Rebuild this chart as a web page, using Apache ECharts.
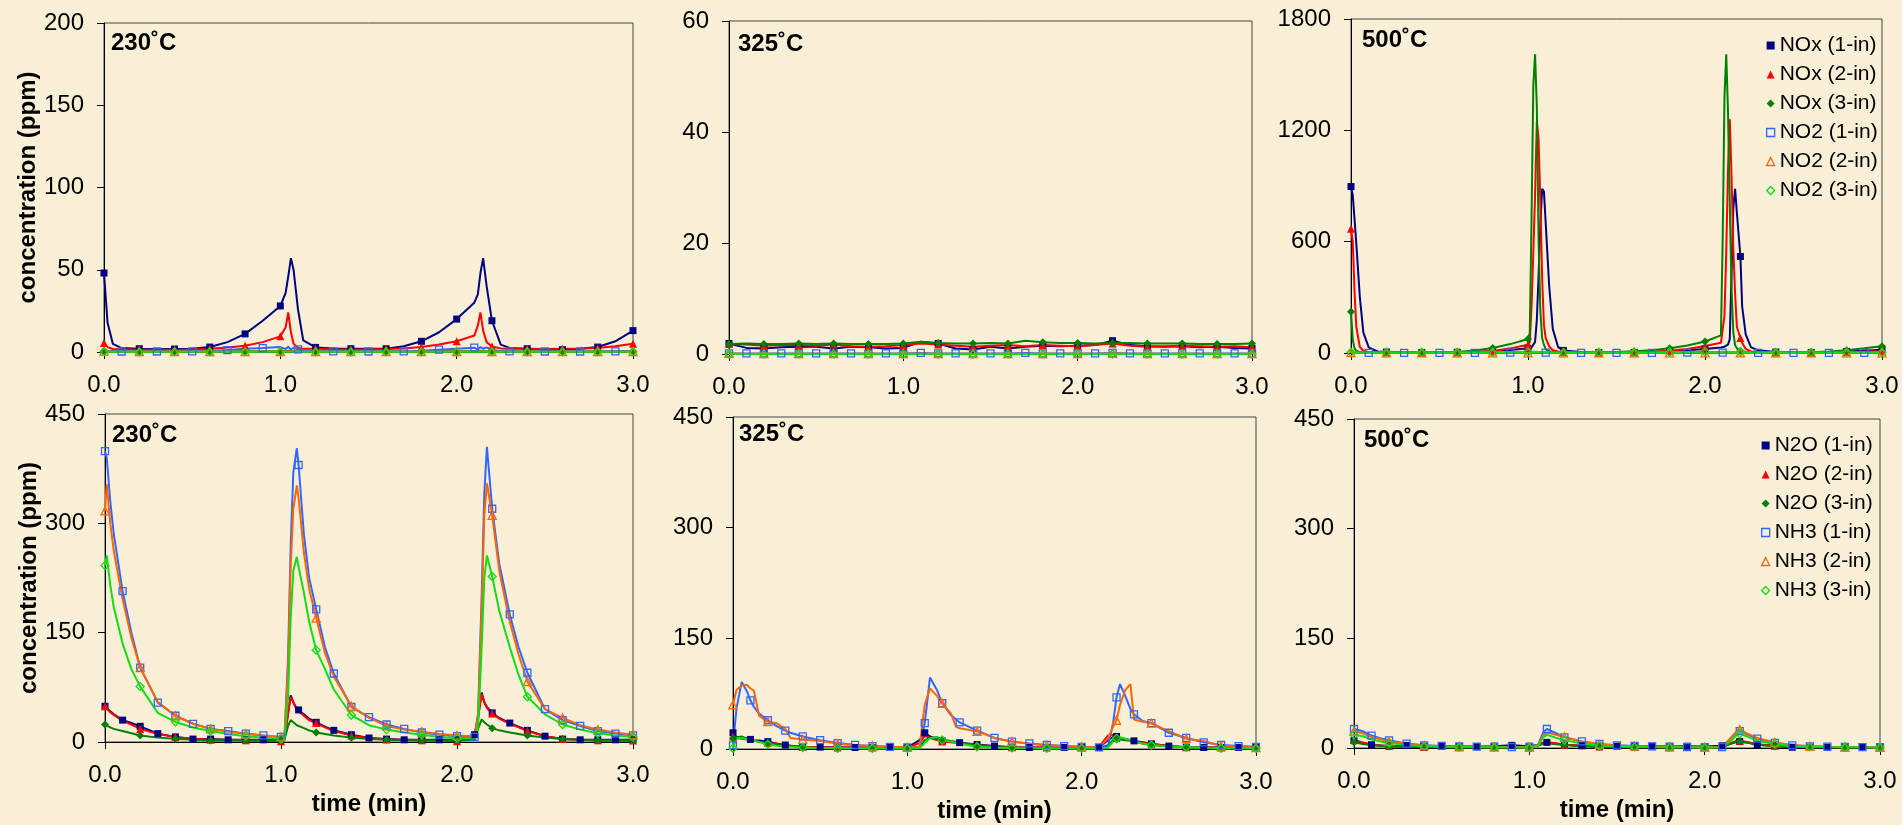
<!DOCTYPE html>
<html>
<head>
<meta charset="utf-8">
<title>NOx / NO2 / N2O / NH3 concentration vs time</title>
<script src="https://cdn.jsdelivr.net/npm/echarts@6/dist/echarts.min.js"></script>
<style>
  html, body { margin: 0; padding: 0; background: #F9EFD6; }
  #chart { width: 1902px; height: 825px; }
</style>
</head>
<body>
<div id="chart"></div>
<script>
// ---- labels ----
var topNames = ['NOx (1-in)', 'NOx (2-in)', 'NOx (3-in)', 'NO2 (1-in)', 'NO2 (2-in)', 'NO2 (3-in)'];
var bottomNames = ['N2O (1-in)', 'N2O (2-in)', 'N2O (3-in)', 'NH3 (1-in)', 'NH3 (2-in)', 'NH3 (3-in)'];
var temps = ['230˚C', '325˚C', '500˚C'];
var topYMax = [200, 60, 1800];
var topYStep = [50, 20, 600];
var bottomYMax = 450;
var bottomYStep = 150;

// ---- 230C, NOx / NO2 ----
var tTL = [0, 0.02, 0.05, 0.1, 0.2, 0.3, 0.4, 0.5, 0.6, 0.7, 0.8, 0.9, 1.0, 1.03, 1.045, 1.06, 1.075, 1.1, 1.13,
  1.2, 1.3, 1.4, 1.5, 1.6, 1.7, 1.8, 1.9, 2.0, 2.1, 2.12, 2.135, 2.15, 2.17, 2.2, 2.25, 2.3, 2.4, 2.5, 2.6, 2.7, 2.8, 2.9, 3.0];
var tl_nox1 = [48, 18, 5, 2.4, 2, 1.8, 1.8, 2, 3, 6, 11, 19, 28, 36, 46, 57, 50, 26, 7,
  2.8, 2.2, 2, 2, 2, 3.5, 6.5, 12, 20, 30, 35, 48, 57, 40, 19, 4.5, 2.5, 2, 1.5, 1.4, 2, 3, 6.5, 13];
var tl_nox2 = [5.5, 3, 1.8, 1.5, 1.5, 1.3, 1.3, 1.5, 2, 2.8, 3.8, 6, 9.5, 15, 24, 12, 5, 2.5, 2,
  2, 1.6, 1.5, 1.5, 1.8, 2.2, 3, 4.5, 6.5, 10, 16, 24, 13, 6, 3.4, 2.2, 2, 2, 1.8, 2, 2.2, 2.5, 3.5, 5];
var tl_nox3 = [0.6, 0.4, 0.4, 0.3, 0.3, 0.3, 0.3, 0.3, 0.3, 0.4, 0.4, 0.5, 0.5, 0.6, 0.7, 0.6, 0.5, 0.4, 0.4,
  0.3, 0.3, 0.3, 0.3, 0.3, 0.3, 0.4, 0.4, 0.5, 0.5, 0.6, 0.7, 0.6, 0.5, 0.4, 0.4, 0.3, 0.3, 0.3, 0.3, 0.3, 0.3, 0.4, 0.4];
var tl_no2_1 = [1.5, 0.8, 0.5, 0.3, 0.3, 0.3, 0.3, 0.4, 0.6, 1.2, 2, 2.4, 3, 1.8, 3.2, 1.5, 2.6, 1.6, 1,
  0.6, 0.4, 0.3, 0.3, 0.3, 0.4, 0.8, 1.4, 2, 2.6, 1.5, 3, 2, 2.8, 1.2, 0.6, 0.4, 0.3, 0.3, 0.3, 0.3, 0.3, 0.4, 0.5];
var tl_no2_2 = [0.5, 0.3, 0.2, 0.2, 0.2, 0.2, 0.2, 0.2, 0.2, 0.2, 0.2, 0.3, 0.3, 0.3, 0.4, 0.3, 0.3, 0.2, 0.2,
  0.2, 0.2, 0.2, 0.2, 0.2, 0.2, 0.2, 0.2, 0.3, 0.3, 0.3, 0.4, 0.3, 0.3, 0.2, 0.2, 0.2, 0.2, 0.2, 0.2, 0.2, 0.2, 0.2, 0.2];
var tl_no2_3 = [0.2, 0.1, 0.1, 0.1, 0.1, 0.1, 0.1, 0.1, 0.1, 0.1, 0.1, 0.1, 0.1, 0.1, 0.2, 0.1, 0.1, 0.1, 0.1,
  0.1, 0.1, 0.1, 0.1, 0.1, 0.1, 0.1, 0.1, 0.1, 0.1, 0.1, 0.2, 0.1, 0.1, 0.1, 0.1, 0.1, 0.1, 0.1, 0.1, 0.1, 0.1, 0.1, 0.1];

// ---- 325C, NOx / NO2 ----
var tTM = [0, 0.1, 0.2, 0.3, 0.4, 0.5, 0.6, 0.7, 0.8, 0.9, 1.0, 1.1, 1.2, 1.3, 1.4, 1.5, 1.6, 1.7, 1.8, 1.9,
  2.0, 2.1, 2.2, 2.3, 2.4, 2.5, 2.6, 2.7, 2.8, 2.9, 3.0];
var tm_nox1 = [1.9, 1.1, 1.0, 1.2, 1.3, 1.3, 1.0, 1.3, 1.2, 1.0, 1.1, 2.2, 1.9, 1.0, 0.8, 1.3, 1.0, 1.3, 1.5, 1.4,
  1.5, 1.6, 2.4, 1.6, 1.4, 1.3, 1.4, 1.2, 1.3, 1.1, 1.0];
var tm_nox2 = [1.8, 1.7, 1.5, 1.6, 1.6, 1.5, 1.7, 1.4, 1.3, 1.4, 1.6, 1.9, 1.7, 1.5, 1.3, 1.5, 1.6, 1.4, 1.6, 1.5,
  1.4, 1.6, 1.9, 1.5, 1.3, 1.4, 1.5, 1.4, 1.3, 1.4, 1.2];
var tm_nox3 = [1.8, 1.9, 1.8, 1.8, 1.9, 1.8, 1.9, 1.8, 1.8, 1.8, 1.9, 2.2, 2.0, 1.9, 1.9, 2.0, 1.9, 2.4, 2.1, 2.0,
  2.0, 1.9, 2.0, 2.0, 1.9, 1.9, 1.9, 1.8, 1.8, 1.8, 1.9];
var tm_no2_1 = [0.1, 0.1, 0.1, 0.1, 0.1, 0.1, 0.1, 0.1, 0.1, 0.1, 0.1, 0.2, 0.1, 0.1, 0.1, 0.1, 0.1, 0.2, 0.1, 0.1,
  0.1, 0.1, 0.2, 0.1, 0.1, 0.1, 0.1, 0.1, 0.1, 0.1, 0.1];
var tm_no2_2 = [0.1, 0.05, 0.05, 0.05, 0.05, 0.05, 0.05, 0.05, 0.05, 0.05, 0.05, 0.1, 0.05, 0.05, 0.05, 0.05, 0.05, 0.05, 0.05, 0.05,
  0.05, 0.05, 0.1, 0.05, 0.05, 0.05, 0.05, 0.05, 0.05, 0.05, 0.05];
var tm_no2_3 = [0, 0, 0, 0, 0, 0, 0, 0, 0, 0, 0, 0, 0, 0, 0, 0, 0, 0, 0, 0,
  0, 0, 0, 0, 0, 0, 0, 0, 0, 0, 0];

// ---- 500C, NOx / NO2 ----
var tTR = [0, 0.01, 0.02, 0.03, 0.05, 0.07, 0.1, 0.15,
  0.2, 0.3, 0.4, 0.5, 0.6, 0.7, 0.8, 0.9, 1.0,
  1.01, 1.02, 1.03, 1.04, 1.05, 1.06, 1.07, 1.08, 1.09, 1.1,
  1.12, 1.14, 1.17,
  1.2, 1.3, 1.4, 1.5, 1.6, 1.7, 1.8, 1.9, 2.0,
  2.09, 2.1, 2.11, 2.12, 2.13, 2.14, 2.15, 2.16, 2.17, 2.18,
  2.2, 2.21, 2.23, 2.26,
  2.3, 2.4, 2.5, 2.6, 2.7, 2.8, 2.9, 3.0];
var tr_nox1 = [897, 850, 720, 590, 300, 110, 30, 8,
  5, 3, 3, 3, 4, 6, 10, 16, 25,
  27, 30, 35, 60, 180, 420, 700, 885, 870, 700,
  357, 130, 32,
  14, 5, 3, 3, 3, 5, 9, 15, 22,
  30, 32, 34, 37, 45, 75, 430, 780, 885, 757,
  520, 250, 100, 30,
  15, 5, 3, 3, 5, 8, 12, 18];
var tr_nox2 = [670, 600, 330, 140, 32, 12, 5, 3,
  3, 2, 2, 2, 3, 5, 9, 25, 45,
  60, 250, 540, 850, 1250, 1150, 800, 400, 150, 80,
  35, 15, 8,
  5, 3, 2, 2, 3, 5, 12, 22, 38,
  55, 62, 200, 540, 990, 1260, 950, 560, 320, 140,
  81, 55, 22, 8,
  4, 3, 2, 2, 3, 5, 7, 9];
var tr_nox3 = [222, 70, 25, 12, 5, 3, 2, 2,
  2, 2, 3, 3, 6, 14, 27, 48, 75,
  108, 720, 1440, 1610, 1320, 600, 220, 80, 45, 20,
  10, 5, 3,
  3, 2, 3, 5, 9, 15, 25, 40, 62,
  95, 620, 1380, 1610, 1300, 800, 350, 110, 43, 25,
  12, 9, 6, 4,
  3, 3, 3, 4, 8, 15, 25, 36];
var tr_no2_1 = [3, 2, 2, 2, 1, 1, 1, 1,
  1, 1, 1, 1, 1, 1, 1, 2, 2,
  2, 2, 3, 3, 3, 3, 3, 2, 2, 2,
  2, 1, 1,
  1, 1, 1, 1, 1, 1, 1, 2, 2,
  2, 2, 3, 3, 3, 3, 3, 2, 2, 2,
  2, 2, 1, 1,
  1, 1, 1, 1, 1, 1, 1, 1];
var tr_no2_2 = [2, 1, 1, 1, 1, 1, 1, 1,
  1, 1, 1, 1, 1, 1, 1, 1, 1,
  1, 1, 1, 1, 1, 1, 1, 1, 1, 1,
  1, 1, 1,
  1, 1, 1, 1, 1, 1, 1, 1, 1,
  1, 1, 1, 1, 1, 1, 1, 1, 1, 1,
  1, 1, 1, 1,
  1, 1, 1, 1, 1, 1, 1, 1];
var tr_no2_3 = [4, 3, 3, 3, 3, 3, 3, 3,
  3, 3, 3, 3, 3, 3, 4, 5, 5,
  6, 6, 7, 7, 6, 6, 5, 5, 4, 4,
  4, 3, 3,
  3, 3, 3, 3, 3, 3, 4, 5, 6,
  7, 7, 8, 8, 7, 7, 6, 5, 5, 4,
  4, 4, 3, 3,
  3, 3, 3, 3, 3, 3, 3, 4];

// ---- 230C, N2O / NH3 ----
var tBL = [0, 0.01, 0.03, 0.05, 0.1, 0.15,
  0.2, 0.3, 0.4, 0.5, 0.6, 0.7, 0.8, 0.9, 1.0,
  1.02, 1.04, 1.055, 1.07, 1.09, 1.1, 1.13, 1.16,
  1.2, 1.25,
  1.3, 1.4, 1.5, 1.6, 1.7, 1.8, 1.9, 2.0, 2.1,
  2.12, 2.14, 2.155, 2.17,
  2.2, 2.24, 2.3, 2.35,
  2.4, 2.5, 2.6, 2.7, 2.8, 2.9, 3.0];
var bl_n2o_1 = [49, 47, 42, 38, 30, 26,
  21.5, 11.5, 7, 4, 4, 3, 3, 3, 3,
  5, 40, 64, 55, 45, 44, 38, 32,
  27, 21,
  16, 10, 5.5, 4, 3, 3, 3, 3, 10,
  35, 68, 55, 48,
  40, 33, 26, 21,
  16, 8, 4, 3, 3, 3, 3];
var bl_n2o_2 = [49, 46, 41, 37, 29, 24,
  18, 11, 7, 4, 3, 3, 2.5, 2, 1,
  4, 38, 62, 54, 44, 42, 36, 30,
  26, 20,
  15, 9, 5, 3.5, 3, 2.5, 2, 1, 8,
  33, 66, 54, 47,
  39, 32, 25, 20,
  15, 8, 4, 3, 2.5, 2, 2];
var bl_n2o_3 = [24, 23, 20, 18, 15, 12,
  9, 6, 4.5, 3, 2, 2, 2, 2, 2,
  3, 22, 30, 27, 23, 22, 19, 16,
  13, 11,
  9, 6, 4, 3, 2.5, 2, 2, 2, 3,
  18, 31, 27, 24,
  19, 16, 13, 11,
  9, 6, 4, 3, 2, 2, 2];
var bl_nh3_1 = [399, 390, 330, 285, 207, 150,
  102, 54, 36, 25, 18, 15, 11.5, 9, 7,
  8, 115, 270, 370, 403, 380, 285, 225,
  182, 130,
  94, 48, 34, 24, 18, 13, 10, 8, 7,
  40, 200, 340, 405,
  320, 245, 175, 130,
  95, 45, 30, 22, 15, 11.5, 9];
var bl_nh3_2 = [317, 354, 300, 262, 196, 143,
  102, 55, 36, 25, 18, 14, 11, 9, 7,
  8, 100, 240, 320, 352, 335, 260, 210,
  170, 122,
  90, 49, 33, 22, 17, 14, 11, 9, 8,
  35, 180, 310, 355,
  311, 235, 165, 120,
  83, 45, 33, 23, 17, 13, 10];
var bl_nh3_3 = [242, 256, 215, 185, 135, 100,
  76, 40, 27.5, 20, 15, 11, 8, 6, 4,
  5, 60, 170, 235, 254, 240, 205, 165,
  126, 100,
  72, 37, 23, 17, 13, 10, 7, 5.5, 5,
  20, 130, 225, 256,
  227, 180, 130, 92,
  62, 38, 24, 17, 12, 9, 7];

// ---- 325C, N2O / NH3 ----
var tBM = [0, 0.02, 0.05, 0.08, 0.1, 0.12, 0.15,
  0.2, 0.25, 0.3, 0.33,
  0.4, 0.5, 0.6, 0.7, 0.8, 0.9, 1.0,
  1.07, 1.1, 1.13, 1.17,
  1.2, 1.25, 1.28,
  1.3, 1.4, 1.5, 1.6, 1.7, 1.8, 1.9, 2.0, 2.1,
  2.15, 2.18, 2.2, 2.22, 2.25, 2.28,
  2.3, 2.35,
  2.4, 2.5, 2.6, 2.7, 2.8, 2.9, 3.0];
var bm_n2o_1 = [22, 16, 15, 14, 13, 12, 11.5,
  10, 7.5, 5.4, 4.5,
  3, 2.5, 2.3, 2, 2, 2, 2,
  12, 22, 17, 14,
  11, 9.5, 9,
  8.6, 6, 4, 2.5, 2, 2, 2, 2, 2,
  12, 16, 17, 15, 13.5, 12,
  11, 9,
  7, 4, 2.5, 2, 2, 2, 2];
var bm_n2o_2 = [17, 15, 14, 13, 12, 11, 10,
  8.5, 7, 5, 4.5,
  3, 2.5, 2, 2, 2, 2, 2,
  8, 18, 15, 12,
  10, 9, 8.5,
  8, 5.5, 3.5, 2.5, 2, 2, 2, 2, 3,
  18, 19, 15, 14, 13, 12,
  10.5, 8.5,
  6.5, 4, 2.5, 2, 2, 2, 2];
var bm_n2o_3 = [14.5, 16, 17, 14, 12, 11, 10,
  7.7, 6, 4.5, 4,
  2.3, 1.5, 1.2, 1, 1, 1, 1,
  3, 12, 15, 16,
  13, 11, 10,
  8.5, 5, 3, 2, 1.5, 1, 1, 1, 1,
  5, 12, 13, 13, 12, 11,
  10, 7.5,
  5.4, 3.5, 2.3, 1.5, 1, 1, 1];
var bm_nh3_1 = [5, 55, 91, 78, 66, 57, 48,
  39, 31, 25, 22,
  17, 12, 8, 5.5, 4, 3, 2.3,
  2.5, 35, 97, 80,
  62, 46, 40,
  36, 25, 15, 10, 7.5, 5.4, 4, 3, 2.3,
  3, 35, 70, 88, 72, 54,
  47, 38,
  35, 22, 15, 9, 5.4, 4, 3];
var bm_nh3_2 = [60, 80, 86, 87, 82, 79, 45,
  37, 35, 27, 15,
  13, 11, 7, 5, 4, 3, 2.3,
  2.5, 60, 82, 72,
  62, 48, 30,
  28, 24, 15, 10, 7, 5, 4, 3, 2,
  14, 30, 39, 60, 80, 88,
  40, 37,
  35, 24, 14, 11, 4, 3, 2];
var bm_nh3_3 = [1, 14.5, 15, 13, 12, 11, 9.5,
  6.3, 4.5, 3.5, 3,
  2, 1.5, 1, 1, 1, 0.8, 0.8,
  1, 8, 15, 16,
  12, 10, 8.5,
  7, 3, 2, 1.5, 1, 1, 0.8, 0.8, 0.8,
  1.5, 10, 14.5, 16, 14, 12,
  10, 7.5,
  5.4, 3.5, 2.3, 1.5, 1, 1, 1];

// ---- 500C, N2O / NH3 ----
var tBR = [0, 0.05, 0.1, 0.15,
  0.2, 0.3, 0.4, 0.5, 0.6, 0.7, 0.8, 0.9, 1.0,
  1.05, 1.08, 1.1, 1.15,
  1.2, 1.3, 1.4, 1.5, 1.6, 1.7, 1.8, 1.9, 2.0, 2.1,
  2.15, 2.18, 2.2, 2.25,
  2.3, 2.4, 2.5, 2.6, 2.7, 2.8, 2.9, 3.0];
var br_n2o_1 = [10, 7, 4.5, 3.5,
  2.5, 3.5, 2.5, 2.3, 2, 2, 2.5, 3.6, 2.5,
  4, 7, 7.7, 6,
  4.5, 3, 2.3, 2.5, 2, 2.5, 2, 2.3, 2, 3,
  6, 8, 9, 7,
  4.5, 3, 1, 1, 1, 1, 1, 1];
var br_n2o_2 = [11, 7.5, 5, 3.5,
  3, 2, 1.5, 1.2, 1, 1, 1, 1, 1,
  4, 7.5, 8, 6.5,
  4.5, 3, 2, 1.5, 1.2, 1, 1, 1, 1, 1.5,
  7, 9.5, 10, 8,
  5, 3, 1.8, 1.2, 1, 1, 1, 1];
var br_n2o_3 = [7.7, 5.5, 3.6, 2.8,
  2, 1.5, 1.2, 1, 0.8, 0.8, 0.8, 0.8, 0.8,
  3, 6, 6.5, 5,
  4, 2.5, 1.5, 1.2, 1, 0.9, 0.8, 0.8, 0.8, 1,
  6, 8.5, 9, 7,
  4.5, 2.5, 1.5, 1, 0.9, 0.8, 0.8, 0.8];
var br_nh3_1 = [26, 23, 17, 13.5,
  10.5, 6, 3.6, 2.8, 2.3, 2, 1.6, 1.4, 1.2,
  4.5, 22, 26, 20.5,
  14.6, 9, 5.5, 3.6, 2.8, 2.3, 1.8, 1.4, 1.2, 1.2,
  13.7, 21, 23, 18,
  12.8, 7, 3.6, 2.3, 1.8, 1.4, 1.2, 1];
var br_nh3_2 = [23, 20, 15, 12,
  9, 5.5, 3.5, 2.5, 2, 1.8, 1.5, 1.3, 1.1,
  4, 18, 21, 18,
  15, 8.5, 5, 3.4, 2.5, 2, 1.6, 1.3, 1.1, 1.1,
  14, 22, 25, 19,
  13.7, 7.7, 4, 2.3, 1.8, 1.4, 1.2, 1];
var br_nh3_3 = [18, 16, 12, 9,
  7, 4, 2.3, 1.8, 1.4, 1.2, 1, 0.9, 0.8,
  3, 15, 18, 14,
  11, 6, 3, 2, 1.5, 1.2, 1, 0.9, 0.8, 0.8,
  10, 17, 19.6, 15,
  10, 5.5, 2.5, 1.5, 1.2, 1, 0.9, 0.8];

// ---- look ----
var FONT = '"Liberation Sans", Arial, sans-serif';
var styles = [
  { color: '#000080', symbol: 'rect', hollow: false, size: 7 },
  { color: '#FF0000', symbol: 'triangle', hollow: false, size: 8 },
  { color: '#008000', symbol: 'diamond', hollow: false, size: 8 },
  { color: '#3366FF', symbol: 'rect', hollow: true, size: 7 },
  { color: '#FF6600', symbol: 'triangle', hollow: true, size: 8 },
  { color: '#11DD11', symbol: 'diamond', hollow: true, size: 8 }
];
// markers every N tenths of a minute, with offset
var topMarks = [[2, 0], [2, 0], [2, 0], [2, 1], [2, 0], [2, 0]];
var midMarks = [[2, 0], [2, 0], [2, 0], [1, 0], [2, 0], [2, 0]];
var lowMarks = [[1, 0], [2, 0], [2, 0], [1, 0], [2, 0], [2, 0]];

var panels = [
  { t: tTL, vals: [tl_nox1, tl_nox2, tl_nox3, tl_no2_1, tl_no2_2, tl_no2_3], names: topNames,
    yMax: topYMax[0], yStep: topYStep[0], temp: temps[0], label: [111, 31],
    grid: { left: 104, top: 23, width: 529, height: 329 }, marks: topMarks, yName: true, xName: false },
  { t: tTM, vals: [tm_nox1, tm_nox2, tm_nox3, tm_no2_1, tm_no2_2, tm_no2_3], names: topNames,
    yMax: topYMax[1], yStep: topYStep[1], temp: temps[1], label: [738, 32],
    grid: { left: 729, top: 21, width: 523, height: 333 }, marks: midMarks, yName: false, xName: false },
  { t: tTR, vals: [tr_nox1, tr_nox2, tr_nox3, tr_no2_1, tr_no2_2, tr_no2_3], names: topNames,
    yMax: topYMax[2], yStep: topYStep[2], temp: temps[2], label: [1362, 28],
    grid: { left: 1351, top: 19, width: 531, height: 334 }, marks: topMarks, yName: false, xName: false },
  { t: tBL, vals: [bl_n2o_1, bl_n2o_2, bl_n2o_3, bl_nh3_1, bl_nh3_2, bl_nh3_3], names: bottomNames,
    yMax: bottomYMax, yStep: bottomYStep, temp: temps[0], label: [112, 423],
    grid: { left: 105, top: 414, width: 528, height: 328 }, marks: lowMarks, yName: true, xName: true },
  { t: tBM, vals: [bm_n2o_1, bm_n2o_2, bm_n2o_3, bm_nh3_1, bm_nh3_2, bm_nh3_3], names: bottomNames,
    yMax: bottomYMax, yStep: bottomYStep, temp: temps[1], label: [739, 422],
    grid: { left: 733, top: 417, width: 523, height: 332 }, marks: lowMarks, yName: false, xName: true },
  { t: tBR, vals: [br_n2o_1, br_n2o_2, br_n2o_3, br_nh3_1, br_nh3_2, br_nh3_3], names: bottomNames,
    yMax: bottomYMax, yStep: bottomYStep, temp: temps[2], label: [1364, 428],
    grid: { left: 1354, top: 419, width: 526, height: 329 }, marks: lowMarks, yName: false, xName: true }
];

function pointData(t, v, mk) {
  return t.map(function (x, i) {
    var k = Math.round(x * 10);
    var onTenth = Math.abs(x * 10 - k) < 1e-6;
    var show = onTenth && k >= mk[1] && (k - mk[1]) % mk[0] === 0;
    return show ? [x, v[i]] : { value: [x, v[i]], symbol: 'none' };
  });
}

function markerStyle(st) {
  if (st.hollow) {
    return { color: 'rgba(0,0,0,0)', borderColor: st.color, borderWidth: 1.3 };
  }
  return { color: st.color, borderWidth: 0 };
}

function legendItems(names) {
  return names.map(function (n, i) {
    return { name: n, icon: styles[i].symbol, itemStyle: markerStyle(styles[i]) };
  });
}

var grids = [], xAxes = [], yAxes = [], series = [], graphics = [];

panels.forEach(function (p, gi) {
  grids.push({
    left: p.grid.left, top: p.grid.top, width: p.grid.width, height: p.grid.height,
    show: true, borderColor: '#444', borderWidth: 1, backgroundColor: 'transparent'
  });
  xAxes.push({
    gridIndex: gi, type: 'value', min: 0, max: 3, interval: 1,
    axisLine: { show: true, onZero: false, lineStyle: { color: '#000', width: 1 } },
    axisTick: { show: true, length: 7, lineStyle: { color: '#000' } },
    axisLabel: { margin: 21, fontSize: 24, color: '#000', fontFamily: FONT,
      formatter: function (v) { return v.toFixed(1); } },
    splitLine: { show: false },
    name: p.xName ? 'time (min)' : '', nameLocation: 'middle', nameGap: 50,
    nameTextStyle: { fontSize: 24, fontWeight: 'bold', color: '#000', fontFamily: FONT }
  });
  yAxes.push({
    gridIndex: gi, type: 'value', min: 0, max: p.yMax, interval: p.yStep,
    axisLine: { show: true, lineStyle: { color: '#000', width: 1 } },
    axisTick: { show: true, length: 7, lineStyle: { color: '#000' } },
    axisLabel: { margin: 20, fontSize: 24, color: '#000', fontFamily: FONT,
      formatter: function (v) { return String(v); } },
    splitLine: { show: false },
    name: p.yName ? 'concentration (ppm)' : '', nameLocation: 'middle', nameGap: 64, nameRotate: 90,
    nameTextStyle: { fontSize: 24, fontWeight: 'bold', color: '#000', fontFamily: FONT }
  });
  p.vals.forEach(function (v, si) {
    var st = styles[si];
    series.push({
      type: 'line', name: p.names[si], xAxisIndex: gi, yAxisIndex: gi,
      data: pointData(p.t, v, p.marks[si]),
      symbol: st.symbol, symbolSize: st.size, showSymbol: true, showAllSymbol: true,
      lineStyle: { color: st.color, width: 2 },
      itemStyle: markerStyle(st),
      emphasis: { disabled: true },
      animation: false
    });
  });
  graphics.push({
    type: 'text', left: p.label[0], top: p.label[1],
    style: { text: p.temp, font: 'bold 24px ' + FONT, fill: '#000' }
  });
});

var legendBase = {
  orient: 'vertical', itemWidth: 8, itemHeight: 8, itemGap: 8, selectedMode: false,
  textStyle: { fontSize: 21, color: '#000', fontFamily: FONT }
};

var chart = echarts.init(document.getElementById('chart'), null, { renderer: 'canvas' });
chart.setOption({
  backgroundColor: '#F9EFD6',
  animation: false,
  textStyle: { fontFamily: FONT },
  grid: grids,
  xAxis: xAxes,
  yAxis: yAxes,
  legend: [
    Object.assign({}, legendBase, { data: legendItems(topNames), left: 1761, top: 30 }),
    Object.assign({}, legendBase, { data: legendItems(bottomNames), left: 1756, top: 430 })
  ],
  graphic: graphics,
  series: series
});
</script>
</body>
</html>
